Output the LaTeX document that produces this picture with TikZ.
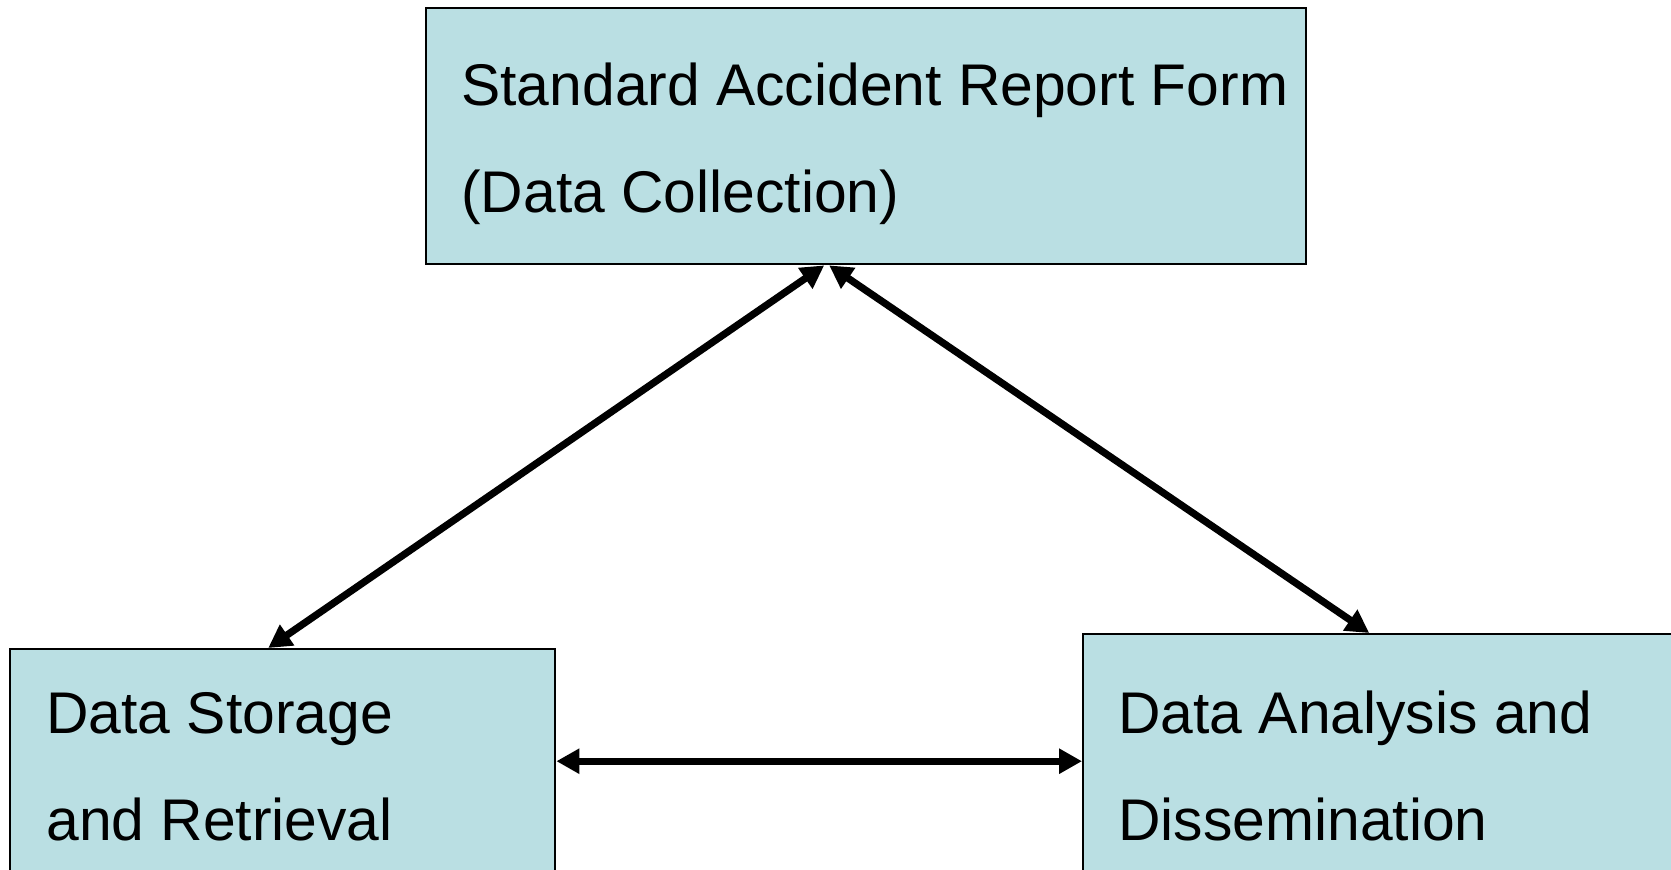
\documentclass[tikz,border=0pt]{standalone}
\usepackage{fontspec}
\setmainfont{Liberation Sans}
\usetikzlibrary{positioning}
\usetikzlibrary{calc}
\usetikzlibrary{arrows.meta}
\definecolor{boxfill}{RGB}{186,223,227}

\begin{document}
\begin{tikzpicture}
[
x=0.5pt, y=0.5pt,
>={Triangle[length=11.5pt, width=12pt]},
box/.style={draw, line width=1.2pt, fill=boxfill, anchor=north west, inner sep=0pt},
texts/.style={anchor=base west, align=left, inner sep=0pt, font=\fontsize{29.4pt}{53.5pt}\selectfont},
link/.style={<->, line width=3.6pt},
]
\path [use as bounding box, clip] (0,0) rectangle (1671,869);

\node (form) [box, minimum width=440pt, minimum height=128pt] at (425,862) {};
\node (store) [box, minimum width=272.5pt, minimum height=127pt] at (9,221) {};
\node (analysis) [box, minimum width=310pt, minimum height=127pt] at (1082,236) {};

\node (form-text) [texts] at (461,656) {Standard Accident Report Form\\(Data Collection)};
\node (store-text) [texts] at (46,29) {Data Storage\\and Retrieval};
\node (analysis-text) [texts] at (1118,29) {Data Analysis and\\Dissemination};

\draw [link] ($(form.south)+(-42,0)$) -- ($(store.north)+(-14.5,0)$);
\draw [link] ($(form.south)+(-37,0)$) -- ($(analysis.north)+(-24,0)$);
\draw [link] (store.east |- analysis.west) -- (analysis.west);
\end{tikzpicture}
\end{document}
